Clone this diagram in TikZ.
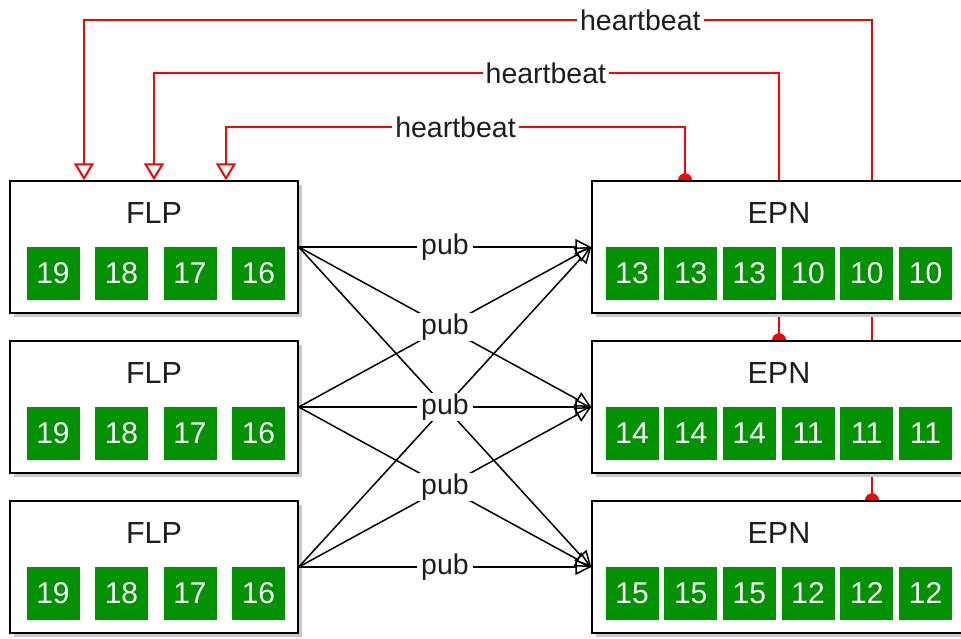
\documentclass[tikz,border=0pt]{standalone}
\usepackage{fontspec}
\setmainfont{Liberation Sans}
\usetikzlibrary{arrows.meta,calc,shadows}
\definecolor{cellgreen}{RGB}{0,146,0}
\definecolor{shadowgray}{RGB}{200,200,200}
\definecolor{inkgray}{RGB}{30,30,30}
\pgfdeclarelayer{wires}
\pgfsetlayers{wires,main}
\begin{document}
\begin{tikzpicture}[x=1pt,y=-1pt,
  box/.style={draw=black,line width=1.5pt,fill=white,minimum height=132pt,inner sep=0pt,
    general shadow={fill=shadowgray,shadow xshift=4pt,shadow yshift=-4pt}},
  cell/.style={fill=cellgreen,minimum width=53pt,minimum height=53pt,inner sep=0pt,
    text=white,font=\fontsize{30}{32}\selectfont},
  title/.style={font=\fontsize{30.5}{32}\selectfont,text=inkgray,inner sep=0pt},
  hb/.style={red,line width=2pt},
  hbtip/.style={-{Triangle[open,length=17pt,width=20pt]}},
  hblabel/.style={fill=white,inner xsep=3pt,inner ysep=1pt,text=inkgray,
    font=\fontsize{28.5}{30}\selectfont},
  pub/.style={line width=1.5pt,-{Triangle[open,length=16pt,width=16pt]}},
  publabel/.style={fill=white,inner xsep=4pt,inner ysep=1pt,text=inkgray,
    font=\fontsize{28.5}{30}\selectfont}]
\clip (0,0) rectangle (961,638);

% FLP boxes with their four green slots
\foreach \i/\y in {1/247,2/407,3/567} {
  \node[box,minimum width=288pt] (f\i) at (154,\y) {};
  \node[title] (f\i t) at (154,\y-34) {FLP};
  \foreach \n [count=\k] in {19,18,17,16}
    \node[cell] (f\i c\k) at ({53+68.5*(\k-1)},\y+26) {\n};
}

% EPN boxes with their six green slots
\foreach \i/\y/\a/\b in {1/247/13/10,2/407/14/11,3/567/15/12} {
  \node[box,minimum width=375pt] (e\i) at (779.5,\y) {};
  \node[title] (e\i t) at (779,\y-34) {EPN};
  \foreach \k in {1,...,6}
    \node[cell] (e\i c\k) at ({632+58.7*(\k-1)},\y+26) {\ifnum\k<4 \a\else\b\fi};
}

% heartbeat lines, routed behind the boxes
\begin{pgfonlayer}{wires}
  \fill[red] (e1.north -| 685,0) circle (7pt);
  \fill[red] (e2.north -| 779,0) circle (7pt);
  \fill[red] (e3.north -| 872,0) circle (7pt);
  \draw[hb,hbtip] (e1.north -| 685,0) -- (685,127)
    -- node[hblabel,pos=0.5] {heartbeat} (226,127) -- (f1.north -| 226,0);
  \draw[hb,hbtip] (e2.north -| 779,0) -- (779,73)
    -- node[hblabel,pos=0.373] {heartbeat} (154,73) -- (f1.north -| 154,0);
  \draw[hb,hbtip] (e3.north -| 872,0) -- (872,20)
    -- node[hblabel,pos=0.294] {heartbeat} (84,20) -- (f1.north -| 84,0);
\end{pgfonlayer}

% pub connectors from every FLP to every EPN
\foreach \s in {1,2,3}
  \foreach \t in {1,2,3}
    \draw[pub] (f\s.east) -- (e\t.west);
\foreach \s in {1,2,3}
  \foreach \t in {1,2,3}
    \path (f\s.east) -- node[publabel] {pub} (e\t.west);
\end{tikzpicture}
\end{document}
